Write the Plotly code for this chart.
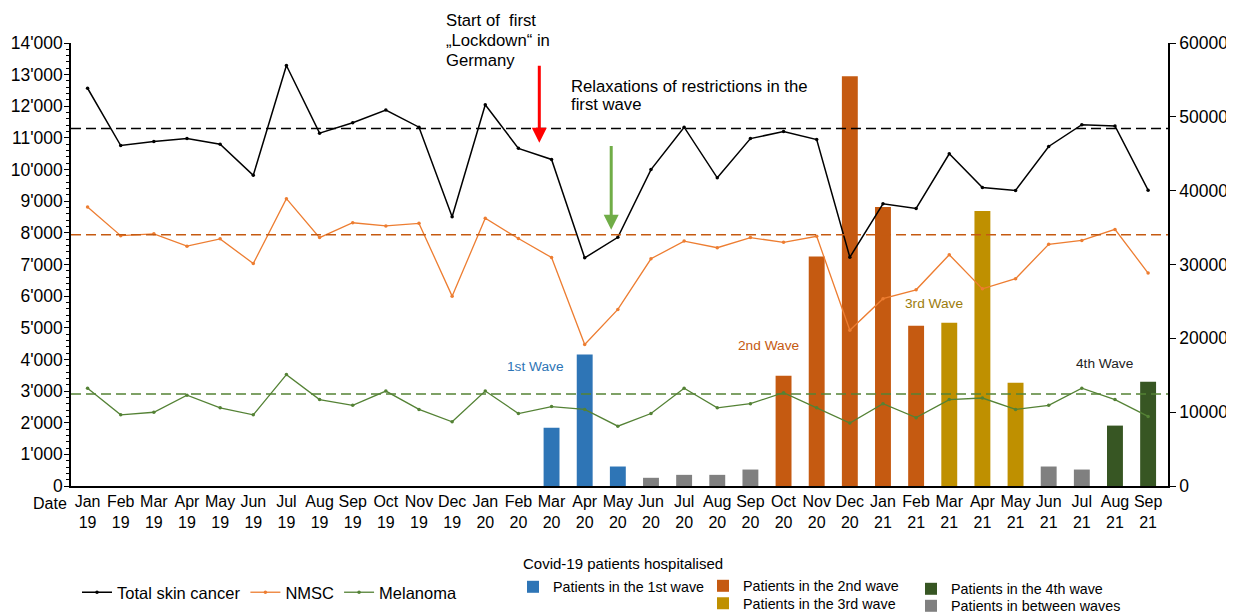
import plotly.graph_objects as go

months = ["Jan 19", "Feb 19", "Mar 19", "Apr 19", "May 19", "Jun 19", "Jul 19", "Aug 19", "Sep 19", "Oct 19", "Nov 19", "Dec 19",
          "Jan 20", "Feb 20", "Mar 20", "Apr 20", "May 20", "Jun 20", "Jul 20", "Aug 20", "Sep 20", "Oct 20", "Nov 20", "Dec 20",
          "Jan 21", "Feb 21", "Mar 21", "Apr 21", "May 21", "Jun 21", "Jul 21", "Aug 21", "Sep 21"]

total_skin = [12570, 10760, 10890, 10980, 10800, 9820, 13290, 11150, 11480, 11880, 11340, 8510,
              12050, 10670, 10320, 7210, 7860, 10000, 11340, 9740, 10980, 11200, 10950, 7230,
              8920, 8770, 10500, 9430, 9340, 10730, 11420, 11380, 9350]
nmsc = [8820, 7910, 7970, 7580, 7810, 7030, 9080, 7850, 8320, 8220, 8300, 6000,
        8460, 7820, 7220, 4470, 5580, 7180, 7740, 7530, 7850, 7700, 7890, 4920,
        5920, 6200, 7310, 6230, 6550, 7640, 7760, 8110, 6730]
melanoma = [3090, 2250, 2330, 2870, 2470, 2250, 3520, 2730, 2550, 3000, 2420, 2030,
            3000, 2290, 2510, 2420, 1890, 2290, 3090, 2470, 2600, 2950, 2470, 1990,
            2600, 2160, 2730, 2780, 2420, 2550, 3090, 2730, 2200]

mean_total = 11300
mean_nmsc = 7940
mean_melanoma = 2910

wave1_x = ["Mar 20", "Apr 20", "May 20"]
wave1_y = [7900, 17800, 2640]
wave2_x = ["Oct 20", "Nov 20", "Dec 20", "Jan 21", "Feb 21"]
wave2_y = [14940, 31070, 55500, 37790, 21700]
wave3_x = ["Mar 21", "Apr 21", "May 21"]
wave3_y = [22100, 37250, 14000]
wave4_x = ["Aug 21", "Sep 21"]
wave4_y = [8180, 14130]
between_x = ["Jun 20", "Jul 20", "Aug 20", "Sep 20", "Jun 21", "Jul 21"]
between_y = [1110, 1510, 1510, 2230, 2640, 2230]

left_ticks = [0, 1000, 2000, 3000, 4000, 5000, 6000, 7000, 8000, 9000, 10000, 11000, 12000, 13000, 14000]
left_ticktext = ["0", "1'000", "2'000", "3'000", "4'000", "5'000", "6'000", "7'000", "8'000", "9'000",
                 "10'000", "11'000", "12'000", "13'000", "14'000"]
right_ticks = [0, 10000, 20000, 30000, 40000, 50000, 60000]

# page body has an 8px margin: the figure is sized to fit the window
OFF = 8
W, H = 1234 - OFF, 614 - OFF
PL, PR, PT, PB = 71, 1168, 43, 486.5          # plot box in page pixels
L, R, T, B = PL - OFF, W - (PR - OFF), PT - OFF, H - (PB - OFF)
PW, PH = PR - PL, PB - PT


def px(x):
    return (x - PL) / PW


def py(y):
    return (PB - y) / PH


def cx(x):
    return (x - OFF) / W


def cy(y):
    return 1 - (y - OFF) / H


FONT = "Liberation Sans, Arial, sans-serif"
fig = go.Figure()

bar_w = 0.48
bars = [
    ("Patients in the 1st wave", wave1_x, wave1_y, "#2e75b6", "legend2"),
    ("Patients in the 2nd wave", wave2_x, wave2_y, "#c55a11", "legend3"),
    ("Patients in the 3rd wave", wave3_x, wave3_y, "#bf9000", "legend4"),
    ("Patients in the 4th wave", wave4_x, wave4_y, "#375623", "legend5"),
    ("Patients in between waves", between_x, between_y, "#808080", "legend6"),
]
# bars on the base (right-hand) axis, lines on the overlaying left axis so they are drawn on top
for name, xs, ys, col, lg in bars:
    fig.add_trace(go.Bar(x=xs, y=ys, name=name, marker=dict(color=col, line=dict(width=0)),
                         width=bar_w, yaxis="y", legend=lg))

lines = [
    ("Total skin cancer", total_skin, "#000000", 1.5),
    ("NMSC", nmsc, "#ed7d31", 1.3),
    ("Melanoma", melanoma, "#548235", 1.3),
]
for name, ys, col, w in lines:
    fig.add_trace(go.Scatter(x=months, y=ys, name=name, mode="lines+markers", yaxis="y2",
                             line=dict(color=col, width=w), marker=dict(size=3.5, color=col),
                             legend="legend"))

for val, col in [(mean_total, "#000000"), (mean_nmsc, "#c55a11"), (mean_melanoma, "#548235")]:
    fig.add_shape(type="line", xref="paper", x0=0, x1=1, yref="y2", y0=val, y1=val,
                  line=dict(color=col, width=1.5, dash="10px,5px"))

ann = []
ann.append(dict(x=13.63, y=10850, xref="x", yref="y2", ax=13.63, ay=13330, axref="x", ayref="y2",
                text="", showarrow=True, arrowhead=2, arrowsize=1, arrowwidth=3, arrowcolor="#ff0000"))
ann.append(dict(x=15.8, y=8100, xref="x", yref="y2", ax=15.8, ay=10790, axref="x", ayref="y2",
                text="", showarrow=True, arrowhead=2, arrowsize=1, arrowwidth=3, arrowcolor="#70ad47"))
for t, x, y in [("Start of  first", 444, 20), ("„Lockdown“ in", 444, 40.5), ("Germany", 444, 61),
                ("Relaxations of restrictions in the", 569, 86.5), ("first wave", 569, 105)]:
    ann.append(dict(x=px(x), y=py(y), xref="paper", yref="paper", xanchor="left", yanchor="middle",
                    text=t, align="left", showarrow=False, font=dict(size=16.7, color="#000000")))
for t, x, y, c in [("1st Wave", 535, 367, "#2e75b6"), ("2nd Wave", 768, 346, "#c55a11"),
                   ("3rd Wave", 934, 304, "#9c7c0c"), ("4th Wave", 1104, 364, "#222222")]:
    ann.append(dict(x=px(x), y=py(y), xref="paper", yref="paper", xanchor="center", yanchor="middle",
                    text=t, showarrow=False, font=dict(size=13.7, color=c)))
ann.append(dict(x=px(31), y=py(504), xref="paper", yref="paper", xanchor="left", yanchor="middle",
                text="Date", showarrow=False, font=dict(size=16, color="#000000")))
ann.append(dict(x=px(622.5), y=py(564), xref="paper", yref="paper", xanchor="center", yanchor="middle",
                text="Covid-19 patients hospitalised", showarrow=False, font=dict(size=15, color="#000000")))


def bar_legend(x, top):
    return dict(orientation="v", xref="container", yref="container", x=cx(x), y=cy(top),
                xanchor="left", yanchor="top", font=dict(size=14.3), bgcolor="rgba(0,0,0,0)")


fig.update_layout(
    width=W, height=H,
    margin=dict(l=L, r=R, t=T, b=B, autoexpand=False),
    paper_bgcolor="white", plot_bgcolor="white",
    font=dict(family=FONT, color="#000000"),
    barmode="overlay",
    showlegend=True,
    annotations=ann,
    xaxis=dict(type="category", categoryorder="array", categoryarray=months,
               tickvals=months, ticktext=[m.replace(" ", "<br>") for m in months],
               tickfont=dict(size=16), tickangle=0, range=[-0.5, 32.6], automargin=False,
               showline=True, linecolor="#000000", linewidth=1.5, ticks="", showgrid=False, zeroline=False),
    yaxis=dict(range=[0, 60000], side="right", tickvals=right_ticks, tickformat="d",
               tickfont=dict(size=17.5), showline=True, linecolor="#000000", linewidth=1.5, automargin=False,
               ticks="outside", ticklen=6, tickcolor="#000000", showgrid=False, zeroline=False),
    yaxis2=dict(range=[0, 14000], overlaying="y", side="left", tickvals=left_ticks, ticktext=left_ticktext,
                tickfont=dict(size=17.5), ticklabelstandoff=-2,
                showline=True, linecolor="#000000", linewidth=1.5, ticks="outside", ticklen=5, tickcolor="#000000",
                minor=dict(dtick=200, ticks="outside", ticklen=3, tickcolor="#000000"), automargin=False,
                showgrid=False, zeroline=False),
    legend=dict(orientation="h", xref="container", yref="container", x=cx(77), y=cy(575),
                xanchor="left", yanchor="top",
                font=dict(size=16.5), itemwidth=30, tracegroupgap=0, bgcolor="rgba(0,0,0,0)"),
    legend2=bar_legend(513, 571),
    legend3=bar_legend(703, 570),
    legend4=bar_legend(703, 587.5),
    legend5=bar_legend(911, 573),
    legend6=bar_legend(911, 590),
)

fig.write_html("out.html")
